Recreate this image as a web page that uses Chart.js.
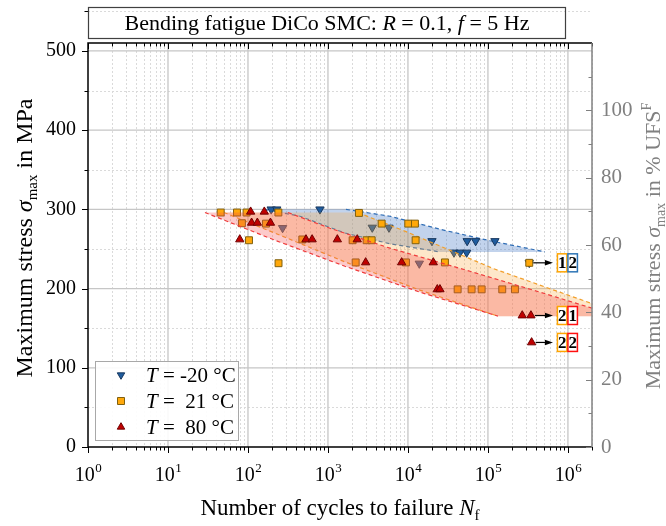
<!DOCTYPE html>
<html>
<head>
<meta charset="utf-8">
<script src="https://cdn.jsdelivr.net/npm/chart.js@4/dist/chart.umd.min.js"></script>
<style>
  html, body { margin: 0; padding: 0; background: #fff; }
</style>
</head>
<body>
<canvas id="sn" width="666" height="526"></canvas>
<script>
// Bending fatigue, DiCo SMC, R = 0.1, f = 5 Hz -- cycles to failure vs. max stress (MPa)
const nM20 = [195, 229, 794, 271, 3580, 5790, 13870, 19970, 37600, 44700, 54200, 55000, 70200, 122300, 328600];
const sM20 = [300, 300, 300, 276.5, 277, 277, 231.6, 260, 245.5, 245.5, 245.5, 260, 260, 260, 232.5];

const n21 = [45.6, 72.9, 96, 240, 2440, 84, 168, 4690, 10090, 12230, 103, 478, 2033, 3043, 3517, 12470,
  241, 2220, 9440, 29000, 41800, 62500, 83400, 151000, 217600, 328600];
const s21 = [296, 296, 296, 296, 295.5, 282.5, 282, 282, 282, 282, 261, 262, 261, 261, 261, 261,
  232, 233, 233, 233, 199, 199, 199, 199, 199, 232.5];

const n80 = [108, 160, 111, 131, 191, 79, 531, 634, 1310, 2323, 2960, 8340, 20730, 23280, 25120, 268500, 344800, 351600];
const s80 = [297, 297, 283, 283, 283, 262, 262, 262, 262, 262, 233, 233, 233, 199, 199, 166, 166, 132];

// scatter bands: upper and lower edge of each band
const bandM20TopN = [160, 1679, 5957, 25100, 105900, 516000];
const bandM20TopS = [300, 300, 291.3, 274.9, 260.4, 246.3];
const bandM20LowN = [160, 447, 1631, 5957, 25100];
const bandM20LowS = [300, 291.3, 270.1, 256.5, 246.3];

const band21TopN = [50, 2371, 9638, 116400, 2000000];
const band21TopS = [296, 296, 271.5, 225.3, 181];
const band21LowN = [50, 290, 1631, 14125, 133400, 2000000];
const band21LowS = [296, 264.8, 233.7, 198, 165.2, 165.2];

const band80TopN = [29, 316, 1059, 5957, 59570, 446700, 2000000];
const band80TopS = [296, 296, 276.2, 251, 221.9, 195.5, 175.3];
const band80LowN = [29, 217.5, 1631, 14125, 133400, 2000000];
const band80LowS = [296, 261, 228.2, 195.5, 165.2, 165.2];

// run-outs (specimens without failure) per stress level
const runoutStress = [232.5, 166, 132];
const runoutLastN = [328600, 344800, 351600];
const runouts21 = [1, 2, 2];
const runoutsOther = [2, 1, 2];
const runoutsOtherTemp = [-20, 80, 80];

// axes
const stressTicks = [0, 100, 200, 300, 400, 500];
const ufsTicks = [0, 20, 40, 60, 80, 100];
const cycleDecades = [0, 1, 2, 3, 4, 5, 6];
const legendTemps = ['-20', ' 21', ' 80'];

const SERIF = '"Liberation Serif", "Times New Roman", serif';
const font = (size, style) => (style ? style + ' ' : '') + size + 'px ' + SERIF;

const C = {
  m20: '#1F5C9E', m20Edge: '#17375E', m20Band: 'rgba(80,130,200,0.35)', m20Line: '#2F6DB5',
  t21: '#FFA80A', t21Edge: '#80600F', t21Band: 'rgba(250,170,60,0.28)', t21Line: '#F2A02C',
  t80: '#C00000', t80Edge: '#700000', t80Band: 'rgba(245,80,80,0.30)', t80Line: '#F03C3C',
  gray: '#808080'
};

const pts = (xs, ys) => xs.map((v, i) => ({ x: v, y: ys[i] }));
const polygon = (tn, ts, ln, ls) => pts(tn, ts).concat(pts(ln, ls).reverse());

function markers(label, xs, ys, style, rot, r, fill, edge, order) {
  return {
    label, data: pts(xs, ys), order,
    pointStyle: style, pointRotation: rot, pointRadius: r,
    pointBackgroundColor: fill, pointBorderColor: edge, pointBorderWidth: 1
  };
}
function edgeLine(data, color, order) {
  return {
    data, order, showLine: true, fill: false, pointRadius: 0,
    borderColor: color, borderWidth: 1.2, borderDash: [4, 3], tension: 0
  };
}
function band(data, color, order) {
  return {
    data, order, showLine: true, fill: 'shape', backgroundColor: color,
    borderColor: 'transparent', borderWidth: 1, pointRadius: 0, tension: 0
  };
}

const datasets = [
  markers('T = 80 °C', n80, s80, 'triangle', 0, 4.8, C.t80, C.t80Edge, 0),
  edgeLine(pts(band80TopN, band80TopS).slice(1), C.t80Line, 1),
  edgeLine(pts(band80LowN, band80LowS).slice(0, -1), C.t80Line, 1),
  band(polygon(band80TopN, band80TopS, band80LowN, band80LowS), C.t80Band, 2),

  markers('T = 21 °C', n21, s21, 'rect', 0, 4.9, C.t21, C.t21Edge, 3),
  edgeLine(pts(band21TopN, band21TopS).slice(1), C.t21Line, 4),
  edgeLine(pts(band21LowN, band21LowS).slice(0, -1), C.t21Line, 4),
  band(polygon(band21TopN, band21TopS, band21LowN, band21LowS), C.t21Band, 5),

  markers('T = -20 °C', nM20, sM20, 'triangle', 180, 4.8, C.m20, C.m20Edge, 6),
  edgeLine(pts(bandM20TopN, bandM20TopS).slice(1), C.m20Line, 7),
  edgeLine(pts(bandM20LowN, bandM20LowS), C.m20Line, 7),
  band(polygon(bandM20TopN, bandM20TopS, bandM20LowN, bandM20LowS), C.m20Band, 8)
];

function drawMarker(ctx, kind, x, y, r) {
  ctx.beginPath();
  if (kind === 'rect') {
    ctx.rect(x - r, y - r, 2 * r, 2 * r);
  } else {
    const s = kind === 'down' ? -1 : 1;
    ctx.moveTo(x, y - s * r);
    ctx.lineTo(x + r * 0.87, y + s * r * 0.5);
    ctx.lineTo(x - r * 0.87, y + s * r * 0.5);
    ctx.closePath();
  }
  ctx.fill();
  ctx.stroke();
}

function richText(ctx, parts, x, y, color) {
  let w = 0;
  for (const p of parts) { ctx.font = p.f; w += ctx.measureText(p.t).width; }
  let cx = x - w / 2;
  ctx.fillStyle = color;
  ctx.textAlign = 'left';
  ctx.textBaseline = 'alphabetic';
  for (const p of parts) {
    ctx.font = p.f;
    ctx.fillText(p.t, cx, y + (p.dy || 0));
    cx += ctx.measureText(p.t).width;
  }
}

function drawGrid(chart) {
  const { ctx, chartArea: a, scales: { x, y } } = chart;
  ctx.save();
  ctx.lineWidth = 1;
  ctx.strokeStyle = '#dadada';
  ctx.setLineDash([2, 2]);
  ctx.beginPath();
  for (const d of cycleDecades) {
    for (let m = 2; m < 10; m++) {
      const v = m * Math.pow(10, d);
      if (v > x.max) continue;
      const px = Math.round(x.getPixelForValue(v)) + 0.5;
      ctx.moveTo(px, a.top); ctx.lineTo(px, a.bottom);
    }
  }
  for (const v of stressTicks) {
    const py = Math.round(y.getPixelForValue(v + 50)) + 0.5;
    ctx.moveTo(a.left, py); ctx.lineTo(a.right, py);
  }
  ctx.stroke();
  ctx.setLineDash([]);
  ctx.strokeStyle = '#c6c6c6';
  ctx.lineWidth = 1.3;
  ctx.beginPath();
  for (const d of cycleDecades.slice(1)) {
    const px = x.getPixelForValue(Math.pow(10, d));
    ctx.moveTo(px, a.top); ctx.lineTo(px, a.bottom);
  }
  for (const v of stressTicks.slice(1)) {
    const py = y.getPixelForValue(v);
    ctx.moveTo(a.left, py); ctx.lineTo(a.right, py);
  }
  ctx.stroke();
  ctx.restore();
}

function drawFrame(chart) {
  const { ctx, chartArea: a, scales: { x, y, y2 } } = chart;
  ctx.save();
  ctx.strokeStyle = '#000';
  ctx.lineWidth = 1;
  ctx.beginPath();
  for (const d of cycleDecades) {
    for (let m = 1; m < 10; m++) {
      const v = m * Math.pow(10, d);
      if (v > x.max) continue;
      const px = Math.round(x.getPixelForValue(v)) + 0.5;
      const len = m === 1 ? 6 : 3.5;
      ctx.moveTo(px, a.bottom); ctx.lineTo(px, a.bottom + len);
      ctx.moveTo(px, a.top); ctx.lineTo(px, a.top + len);
    }
  }
  for (const v of stressTicks) {
    for (const t of [v, v + 50]) {
      const py = Math.round(y.getPixelForValue(t)) + 0.5;
      const len = t === v ? 6 : 3.5;
      ctx.moveTo(a.left, py); ctx.lineTo(a.left - len, py);
    }
  }
  ctx.stroke();

  ctx.lineWidth = 1.5;
  ctx.beginPath();
  ctx.moveTo(a.right, a.top); ctx.lineTo(a.left, a.top);
  ctx.lineTo(a.left, a.bottom); ctx.lineTo(a.right, a.bottom);
  ctx.stroke();

  // secondary axis in % of the ultimate flexural strength
  ctx.strokeStyle = C.gray;
  ctx.beginPath();
  ctx.moveTo(a.right, a.top); ctx.lineTo(a.right, a.bottom);
  ctx.stroke();
  ctx.lineWidth = 1;
  ctx.beginPath();
  for (const v of ufsTicks) {
    for (const t of [v, v + 10]) {
      const py = Math.round(y2.getPixelForValue(t)) + 0.5;
      const len = t === v ? 6 : 3.5;
      ctx.moveTo(a.right, py); ctx.lineTo(a.right - len, py);
    }
  }
  ctx.stroke();

  // decade labels 10^n
  ctx.fillStyle = '#000';
  ctx.textAlign = 'left';
  ctx.textBaseline = 'alphabetic';
  for (const d of cycleDecades) {
    const px = x.getPixelForValue(Math.pow(10, d));
    ctx.font = font(20);
    const w1 = ctx.measureText('10').width;
    ctx.font = font(13);
    const w2 = ctx.measureText(String(d)).width;
    const x0 = px - (w1 + w2) / 2;
    ctx.font = font(20);
    ctx.fillText('10', x0, 481);
    ctx.font = font(13);
    ctx.fillText(String(d), x0 + w1 + 0.5, 472);
  }
  ctx.restore();
}

function drawRunouts(chart) {
  const { ctx, scales: { x, y } } = chart;
  const xm = x.getPixelForValue(1e6);
  ctx.save();
  runoutStress.forEach((s, i) => {
    const py = y.getPixelForValue(s);
    const x0 = x.getPixelForValue(runoutLastN[i]) + 4;
    const tip = xm - 15;
    ctx.strokeStyle = '#000';
    ctx.fillStyle = '#000';
    ctx.lineWidth = 1.2;
    ctx.beginPath();
    ctx.moveTo(x0, py); ctx.lineTo(tip - 6, py);
    ctx.stroke();
    ctx.beginPath();
    ctx.moveTo(tip, py); ctx.lineTo(tip - 8, py - 2.8); ctx.lineTo(tip - 8, py + 2.8);
    ctx.closePath();
    ctx.fill();

    const other = runoutsOtherTemp[i] < 0 ? '#2E75B6' : '#FF1010';
    const boxes = [[xm - 10.5, '#FFA500', runouts21[i]], [xm, other, runoutsOther[i]]];
    for (const [bx, col, n] of boxes) {
      ctx.fillStyle = '#fff';
      ctx.fillRect(bx, py - 9, 9.5, 18);
      ctx.strokeStyle = col;
      ctx.lineWidth = 1.5;
      ctx.strokeRect(bx, py - 9, 9.5, 18);
      ctx.fillStyle = '#000';
      ctx.font = font(17, 'bold');
      ctx.textAlign = 'center';
      ctx.textBaseline = 'middle';
      ctx.fillText(String(n), bx + 4.75, py + 1);
    }
  });
  ctx.restore();
}

function drawLegend(chart) {
  const { ctx } = chart;
  ctx.save();
  ctx.fillStyle = 'rgba(255,255,255,0.9)';
  ctx.fillRect(95.5, 361.5, 143, 79);
  ctx.strokeStyle = '#a8a8a8';
  ctx.lineWidth = 1;
  ctx.strokeRect(95.5, 361.5, 143, 79);
  const kinds = [['down', C.m20, C.m20Edge], ['rect', C.t21, C.t21Edge], ['up', C.t80, C.t80Edge]];
  legendTemps.forEach((t, i) => {
    const cy = 375 + i * 26;
    const [kind, fill, edge] = kinds[i];
    ctx.fillStyle = fill;
    ctx.strokeStyle = edge;
    ctx.lineWidth = 1;
    drawMarker(ctx, kind, 121, cy, kind === 'rect' ? 3.5 : 4.3);
    ctx.fillStyle = '#000';
    ctx.textAlign = 'left';
    ctx.textBaseline = 'alphabetic';
    ctx.font = font(21, 'italic');
    ctx.fillText('T', 146, cy + 7);
    const w = ctx.measureText('T').width;
    ctx.font = font(21);
    ctx.fillText(' = ' + t + ' °C', 146 + w, cy + 7);
  });
  ctx.restore();
}

function drawTitles(chart) {
  const { ctx, chartArea: a } = chart;
  ctx.save();
  // title box
  ctx.strokeStyle = '#404040';
  ctx.lineWidth = 1.2;
  ctx.strokeRect(88.5, 7.5, 477, 31);
  richText(ctx, [
    { t: 'Bending fatigue DiCo SMC: ', f: font(22) },
    { t: 'R', f: font(22, 'italic') },
    { t: ' = 0.1, ', f: font(22) },
    { t: 'f', f: font(22, 'italic') },
    { t: ' = 5 Hz', f: font(22) }
  ], 327, 30, '#000');

  richText(ctx, [
    { t: 'Number of cycles to failure ', f: font(23) },
    { t: 'N', f: font(23, 'italic') },
    { t: 'f', f: font(15), dy: 5 }
  ], (a.left + a.right) / 2, 515, '#000');

  ctx.save();
  ctx.translate(32, 238);
  ctx.rotate(-Math.PI / 2);
  richText(ctx, [
    { t: 'Maximum stress ', f: font(24) },
    { t: 'σ', f: font(24, 'italic') },
    { t: 'max', f: font(15), dy: 5 },
    { t: ' in MPa', f: font(24) }
  ], 0, 0, '#000');
  ctx.restore();

  ctx.save();
  ctx.translate(660, 246);
  ctx.rotate(-Math.PI / 2);
  richText(ctx, [
    { t: 'Maximum stress ', f: font(22) },
    { t: 'σ', f: font(22, 'italic') },
    { t: 'max', f: font(14), dy: 5 },
    { t: ' in % UFS', f: font(22) },
    { t: 'F', f: font(14), dy: -9 }
  ], 0, 0, C.gray);
  ctx.restore();
  ctx.restore();
}

const decor = {
  id: 'decor',
  beforeDatasetsDraw(chart) { drawGrid(chart); },
  afterDraw(chart) {
    drawFrame(chart);
    drawRunouts(chart);
    drawLegend(chart);
    drawTitles(chart);
  }
};

new Chart(document.getElementById('sn'), {
  type: 'scatter',
  data: { datasets },
  options: {
    responsive: false,
    animation: false,
    events: [],
    layout: { padding: { top: 43, left: 0, right: 0, bottom: 0 } },
    plugins: { legend: { display: false }, tooltip: { enabled: false } },
    scales: {
      x: {
        type: 'logarithmic', min: 1, max: 2e6, position: 'bottom',
        grid: { display: false, drawTicks: false }, border: { display: false },
        ticks: { display: false },
        afterFit: s => { s.height = 79; }
      },
      y: {
        min: 0, max: 510, position: 'left',
        grid: { display: false, drawTicks: false }, border: { display: false },
        ticks: { color: '#000', padding: 12, font: { family: SERIF, size: 20 } },
        afterBuildTicks: s => { s.ticks = stressTicks.map(v => ({ value: v })); },
        afterFit: s => { s.width = 88; }
      },
      y2: {
        min: 0, max: 120, position: 'right',
        grid: { display: false, drawTicks: false }, border: { display: false },
        ticks: { color: C.gray, padding: 9, font: { family: SERIF, size: 21 } },
        afterBuildTicks: s => { s.ticks = ufsTicks.map(v => ({ value: v })); },
        afterFit: s => { s.width = 74; }
      }
    }
  },
  plugins: [decor]
});
</script>
</body>
</html>
